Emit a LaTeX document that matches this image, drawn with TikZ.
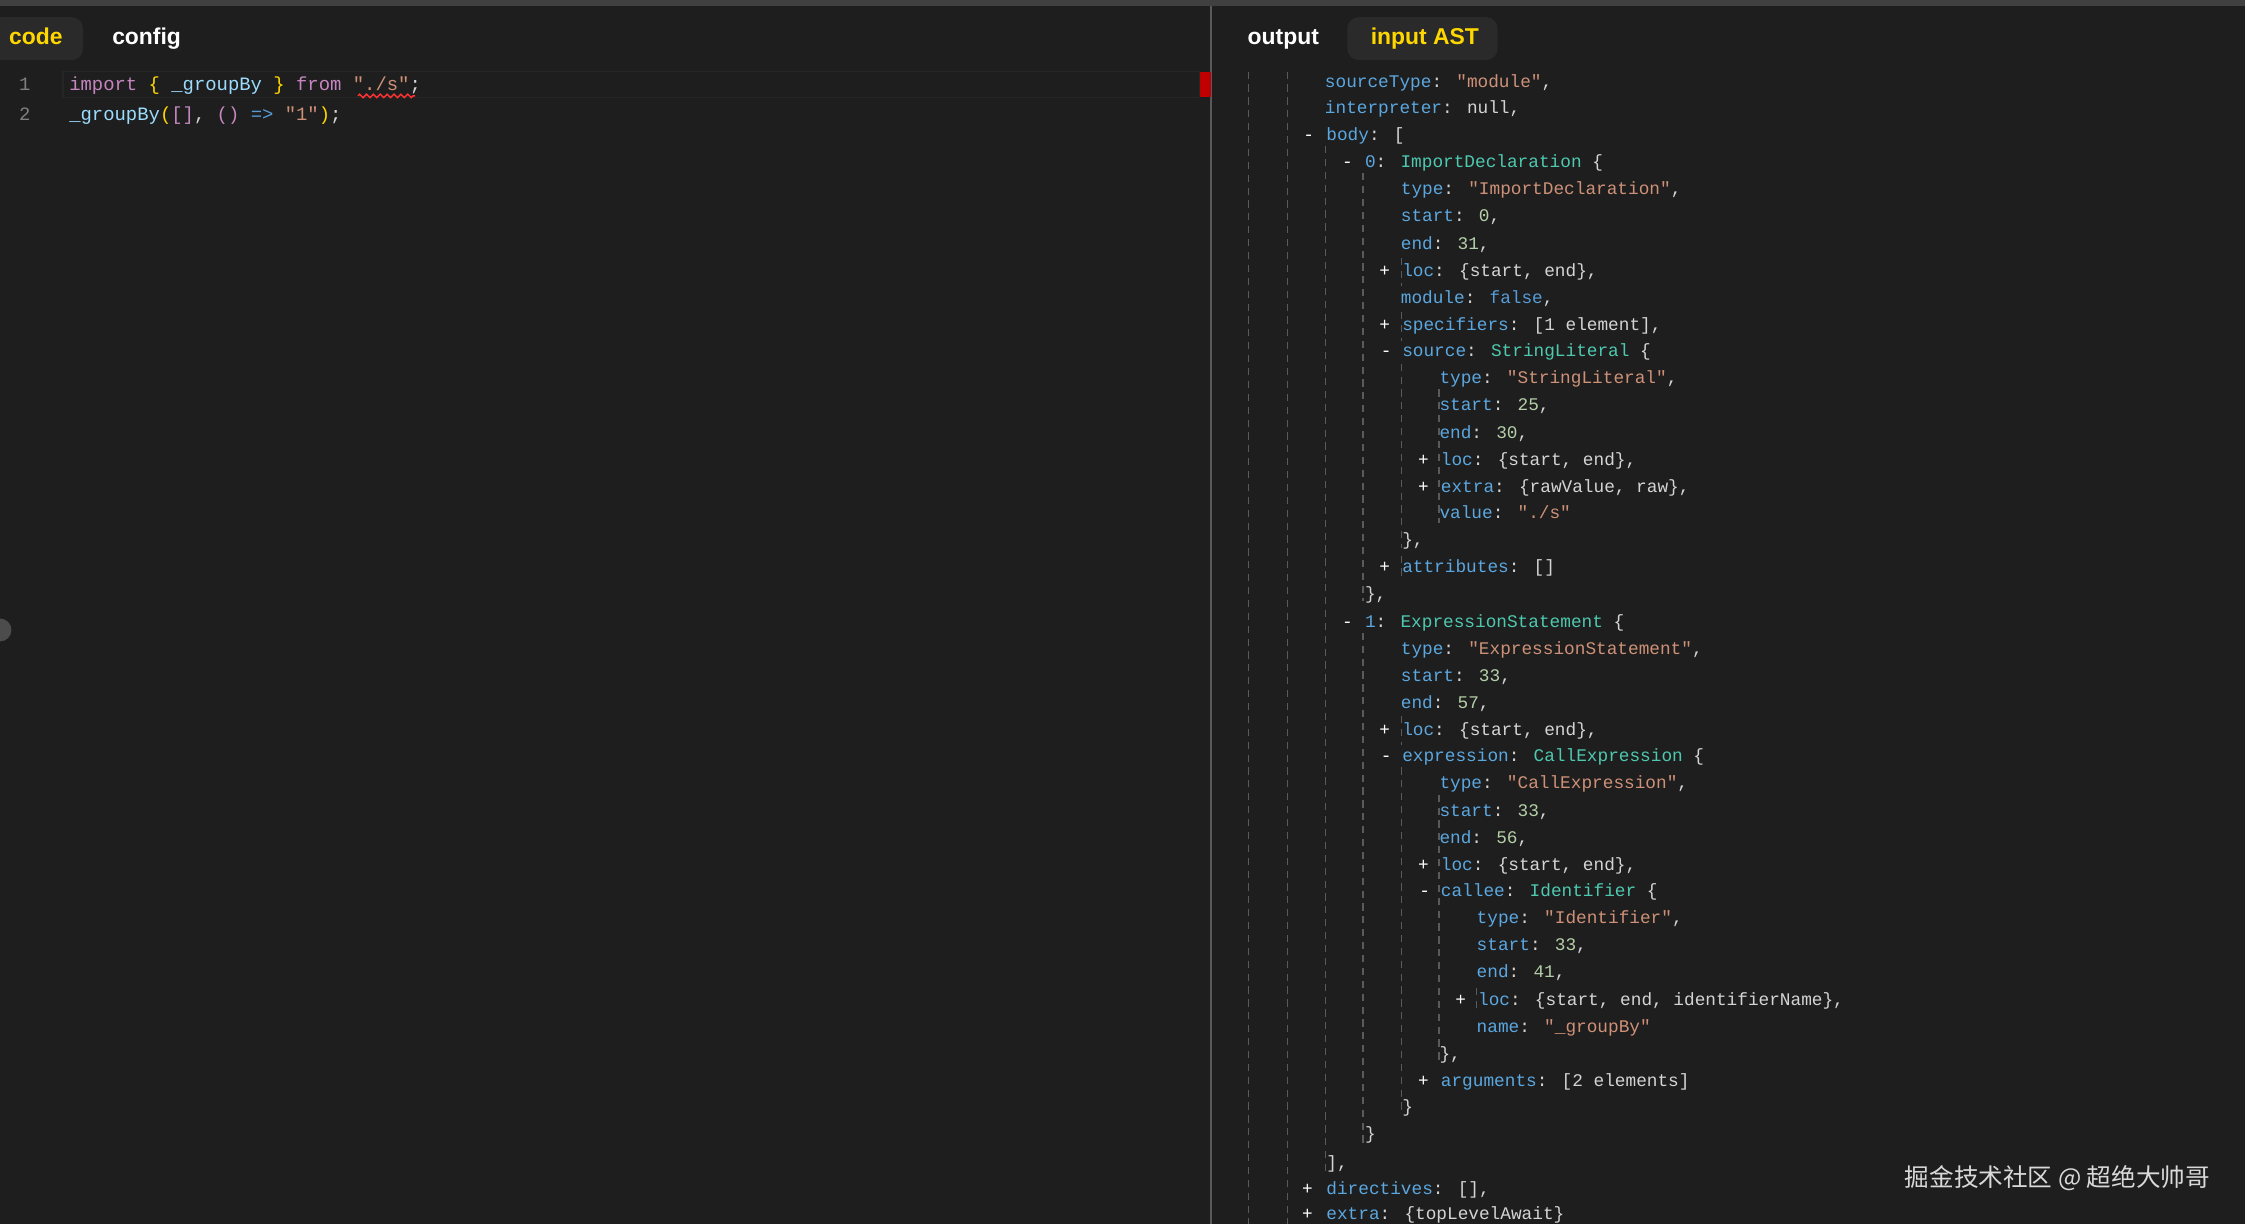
\documentclass[tikz,border=0pt]{standalone}
\usepackage{fontspec}
\usetikzlibrary{decorations.pathmorphing}
\setmainfont{Liberation Sans}
\newfontfamily\codefont{Liberation Mono}[Ligatures=ResetAll]
\newfontfamily\cjkfont{Noto Sans CJK SC}
\definecolor{bgc}{HTML}{1E1E1E}
\definecolor{tabc}{HTML}{2A2A2A}
\definecolor{punc}{HTML}{D4D4D4}
\definecolor{keyc}{HTML}{5BA7E0}
\definecolor{strc}{HTML}{CE9178}
\definecolor{typc}{HTML}{4EC9B0}
\definecolor{numc}{HTML}{B5CEA8}
\definecolor{kwc}{HTML}{C586C0}
\definecolor{brc}{HTML}{FFD700}
\definecolor{idc}{HTML}{9CDCFE}
\definecolor{blc}{HTML}{569CD6}
\definecolor{guide}{HTML}{5A5A5A}
\newcommand{\K}[1]{\textcolor{keyc}{#1}}
\newcommand{\Sg}[1]{\textcolor{strc}{#1}}
\newcommand{\Ty}[1]{\textcolor{typc}{#1}}
\newcommand{\Nm}[1]{\textcolor{numc}{#1}}
\tikzset{
  codetext/.style={anchor=base west, inner sep=0pt, text=punc, font=\codefont\fontsize{6.6}{8}\selectfont},
  asttext/.style={codetext, font=\codefont\fontsize{6.2}{8}\selectfont},
  tabtext/.style={anchor=base west, inner sep=0pt, font=\bfseries\fontsize{8}{10}\selectfont},
  guideline/.style={guide, line width=0.4pt, dash pattern=on 2.5pt off 2pt}
}
\begin{document}
\begin{tikzpicture}[x=0.5pt, y=-0.5pt]
  \useasboundingbox (0,0) rectangle (1568,855);
  \fill[bgc] (0,0) rectangle (1568,855);
  \fill[black!75!white] (0,0) rectangle (1568,4);
  \draw[black!65!white, line width=0.6pt] (846,4) -- (846,855);

  % tabs
  \fill[tabc, rounded corners=4pt] (-10,12) rectangle (58,42);
  \fill[tabc, rounded corners=4pt] (941,12) rectangle (1046,42);
  \node[tabtext, text=brc] (tcode) at (6,31) {code};
  \node[tabtext, text=white] (tconfig) at (78,31) {config};
  \node[tabtext, text=white] (toutput) at (871,31) {output};
  \node[tabtext, text=brc] (tast) at (957,31) {input AST};

  % code editor
  \draw[black!85!white, line width=0.4pt] (44,50) rectangle (838,68);
  \fill[red!75!black] (838,50) rectangle (846,68);
  \node[codetext, text=gray] (n1) at (13,63) {1};
  \node[codetext, text=gray] (n2) at (13,84) {2};
  \node[codetext] (c1) at (48,63) {\textcolor{kwc}{import} \textcolor{brc}{\{} \textcolor{idc}{\_groupBy} \textcolor{brc}{\}} \textcolor{kwc}{from} \textcolor{strc}{"./s"};};
  \node[codetext] (c2) at (48,84) {\textcolor{idc}{\_groupBy}\textcolor{brc}{(}\textcolor{kwc}{[]}, \textcolor{kwc}{()} \textcolor{blc}{=>} \textcolor{strc}{"1"}\textcolor{brc}{)};};
  \draw[red!80!white, line width=0.5pt, decorate, decoration={zigzag, amplitude=0.6pt, segment length=2.4pt}] (250,67) -- (290,67);
  \fill[black!70!white] (0,440) circle (8);

  % guides
  \draw[guideline] (872,50) -- (872,855) (899,50) -- (899,855) (926,102) -- (926,818);
  \draw[guideline] (952,121) -- (952,420) (952,442) -- (952,798);
  \draw[guideline] (979,180) -- (979,200) (979,218) -- (979,238) (979,254) -- (979,383)
    (979,388) -- (979,405) (979,500) -- (979,520) (979,536) -- (979,778);
  \draw[guideline] (1005,272) -- (1005,365) (1005,555) -- (1005,742);
  \draw[guideline] (1031,690) -- (1031,708);

  % ast lines
  \foreach \y/\x/\t in {
    57/925/{\K{sourceType}: \Sg{"module"},},
    75/925/{\K{interpreter}: null,},
    94/926/{\K{body}: [},
    113/953/{\K{0}: \Ty{ImportDeclaration} \{},
    132/978/{\K{type}: \Sg{"ImportDeclaration"},},
    151/978/{\K{start}: \Nm{0},},
    170/978/{\K{end}: \Nm{31},},
    189/979/{\K{loc}: \{start, end\},},
    208/978/{\K{module}: \textcolor{blc}{false},},
    227/979/{\K{specifiers}: [1 element],},
    245/979/{\K{source}: \Ty{StringLiteral} \{},
    264/1005/{\K{type}: \Sg{"StringLiteral"},},
    283/1005/{\K{start}: \Nm{25},},
    302/1005/{\K{end}: \Nm{30},},
    321/1006/{\K{loc}: \{start, end\},},
    340/1006/{\K{extra}: \{rawValue, raw\},},
    358/1005/{\K{value}: \Sg{"./s"}},
    377/979/{\},},
    396/979/{\K{attributes}: []},
    415/953/{\},},
    434/953/{\K{1}: \Ty{ExpressionStatement} \{},
    453/978/{\K{type}: \Sg{"ExpressionStatement"},},
    472/978/{\K{start}: \Nm{33},},
    491/978/{\K{end}: \Nm{57},},
    510/979/{\K{loc}: \{start, end\},},
    528/979/{\K{expression}: \Ty{CallExpression} \{},
    547/1005/{\K{type}: \Sg{"CallExpression"},},
    566/1005/{\K{start}: \Nm{33},},
    585/1005/{\K{end}: \Nm{56},},
    604/1006/{\K{loc}: \{start, end\},},
    622/1006/{\K{callee}: \Ty{Identifier} \{},
    641/1031/{\K{type}: \Sg{"Identifier"},},
    660/1031/{\K{start}: \Nm{33},},
    679/1031/{\K{end}: \Nm{41},},
    698/1032/{\K{loc}: \{start, end, identifierName\},},
    717/1031/{\K{name}: \Sg{"\_groupBy"}},
    736/1005/{\},},
    755/1006/{\K{arguments}: [2 elements]},
    773/979/{\}},
    792/953/{\}},
    812/926/{],},
    830/926/{\K{directives}: [],},
    848/926/{\K{extra}: \{topLevelAwait\}}}
    \node[asttext] (a\y) at (\x,\y+4) {\t};

  % fold marks
  \foreach \y/\x/\m in {94/910/-, 113/937/-, 189/963/+, 227/963/+, 245/964/-,
    321/990/+, 340/990/+, 396/963/+, 434/937/-, 510/963/+, 528/964/-,
    604/990/+, 622/991/-, 698/1016/+, 755/990/+, 830/909/+, 848/909/+}
    \node[asttext, text=white] (m\y) at (\x,\y+4) {\m};

  % watermark
  \node[anchor=base west, inner sep=0pt, text=white!85!black, font=\cjkfont\fontsize{8.6}{10}\selectfont] (mark) at (1330,829) {掘金技术社区 @ 超绝大帅哥};
\end{tikzpicture}
\end{document}
